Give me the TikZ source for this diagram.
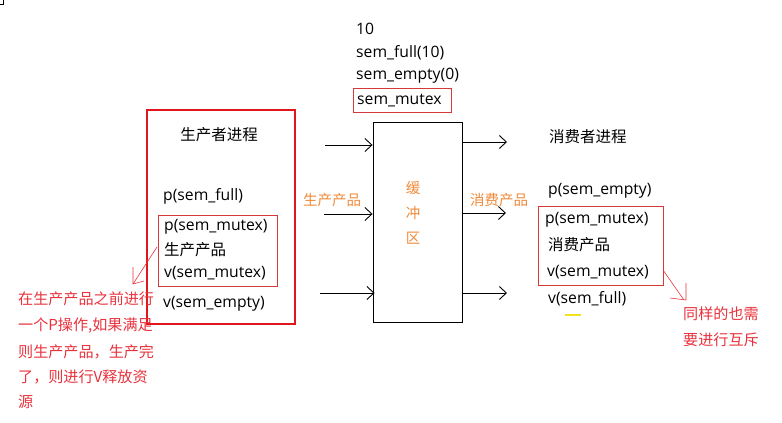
\documentclass[tikz,border=0pt]{standalone}
\usepackage{fontspec}
\setmainfont{Open Sans}
\newfontfamily\cjk{Noto Sans CJK SC}
\usetikzlibrary{arrows.meta}
\definecolor{boxred}{HTML}{E0161C}
\definecolor{thinred}{HTML}{D43A3A}
\definecolor{notered}{HTML}{E8323C}
\definecolor{orng}{HTML}{F28A3A}
\definecolor{yellowmk}{HTML}{F2E21A}
\begin{document}
\begin{tikzpicture}[x=1pt,y=-1pt,
  lat/.style={anchor=west,inner sep=0pt,font=\fontsize{15.7}{18}\selectfont},
  zh/.style={anchor=west,inner sep=0pt,font=\cjk\fontsize{15.5}{18}\selectfont},
  note/.style={anchor=west,inner sep=0pt,text=notered,font=\cjk\fontsize{15.1}{17}\selectfont},
  orl/.style={inner sep=0pt,text=orng,font=\cjk\fontsize{14.5}{17}\selectfont},
  flow/.style={line width=0.9pt,-{Straight Barb[length=7pt,width=13pt,line width=0.9pt]}},
  thinbox/.style={draw=thinred,line width=0.8pt},
  pointer/.style={draw=notered,line width=0.6pt}]
\useasboundingbox (0,0) rectangle (782,423);
% corner mark
\draw[line width=0.8pt] (0,4) -- (3,4) -- (3,0);
% top declarations
\node[lat] (t10) at (356,29) {10};
\node[lat] (tfull) at (356,53) {sem\_full(10)};
\node[lat] (tempty) at (356,76) {sem\_empty(0)};
\node[lat] (tmutex) at (357,101) {sem\_mutex};
\draw[thinbox] (353,88) rectangle (451,112);
% producer
\draw[boxred,line width=2.6pt] (147,110) rectangle (295,324);
\node[zh,anchor=center] (ptitle) at (219,135) {生产者进程};
\node[lat] (p1) at (163,196) {p(sem\_full)};
\draw[thinbox] (158,215) rectangle (277,286);
\node[lat] (p2) at (164,227) {p(sem\_mutex)};
\node[zh] (p3) at (164,250) {生产产品};
\node[lat] (p4) at (164,273) {v(sem\_mutex)};
\node[lat] (p5) at (163,304) {v(sem\_empty)};
% producer note
\node[note] (n1) at (18,299) {在生产产品之前进行};
\node[note] (n2) at (18,326) {一个P操作,如果满足};
\node[note] (n3) at (18,352) {则生产产品，生产完};
\node[note] (n4) at (18,377) {了，则进行V释放资};
\node[note] (n5) at (18,402) {源};
\coordinate (na) at (157,247);
\coordinate (nb) at (133,284);
\draw[pointer] (na) -- (nb);
\draw[pointer] (133,267) -- (nb) -- (144,281);
% buffer
\node[draw,line width=0.9pt,minimum width=89pt,minimum height=200pt,inner sep=0pt] (buf) at (417.5,222) {};
\node[orl] (b1) at (413,188) {缓};
\node[orl] (b2) at (413,213) {冲};
\node[orl] (b3) at (413,238) {区};
\node[orl] (lprod) at (332,200) {生产产品};
\node[orl] (lcons) at (499,200) {消费产品};
% arrows into buffer
\coordinate (a1s) at (325,145);
\coordinate (a2s) at (324,214);
\coordinate (a3s) at (320,293);
\draw[flow] (a1s) -- (a1s -| buf.west);
\draw[flow] (a2s) -- (a2s -| buf.west);
\draw[flow] (a3s) -- ([xshift=2pt]a3s -| buf.west);
% arrows out of buffer
\coordinate (r1e) at (507,142);
\coordinate (r2e) at (506,213);
\coordinate (r3e) at (507,293);
\draw[flow] (r1e -| buf.east) -- (r1e);
\draw[flow] (r2e -| buf.east) -- (r2e);
\draw[flow] (r3e -| buf.east) -- (r3e);
% consumer
\node[zh] (ctitle) at (549,137) {消费者进程};
\node[lat] (c1) at (548,191) {p(sem\_empty)};
\draw[thinbox] (538,206) rectangle (663,285);
\node[lat] (c2) at (545,220) {p(sem\_mutex)};
\node[zh] (c3) at (548,245) {消费产品};
\node[lat] (c4) at (547,272) {v(sem\_mutex)};
\node[lat] (c5) at (548,299) {v(sem\_full)};
\draw[yellowmk,line width=2pt] (565,315) -- (581,315);
% consumer note
\coordinate (ma) at (663,270);
\coordinate (mb) at (684,300);
\draw[pointer] (ma) -- (mb);
\draw[pointer] (686,283) -- (686,300) -- (670,298);
\node[note] (m1) at (683,314) {同样的也需};
\node[note] (m2) at (683,340) {要进行互斥};
\end{tikzpicture}
\end{document}
